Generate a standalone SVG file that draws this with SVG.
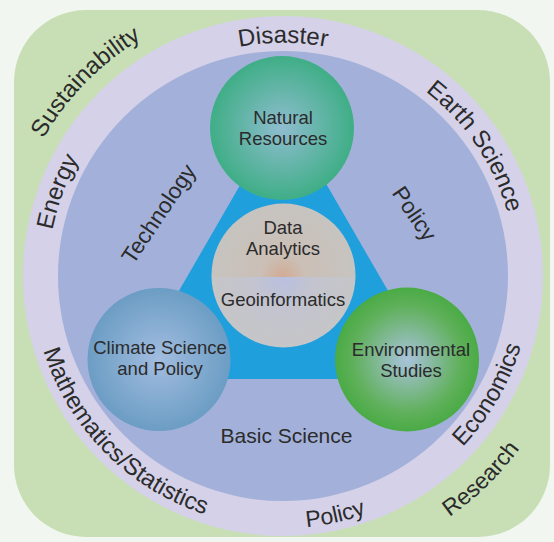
<svg xmlns="http://www.w3.org/2000/svg" width="554" height="542" viewBox="0 0 554 542">
<style>
  .lbl{font-family:"Liberation Sans",Arial,sans-serif;fill:#2b2b2b;text-anchor:middle}
  .node{font-size:18.5px}
  .ring{font-size:24px}
  .inner{font-size:22.5px}
</style>
<defs>
  <radialGradient id="gNR" cx="0.5" cy="0.5" r="0.5">
    <stop offset="0" stop-color="#8fbdd0"/>
    <stop offset="1" stop-color="#3fae86"/>
  </radialGradient>
  <radialGradient id="gCS" cx="0.5" cy="0.5" r="0.5">
    <stop offset="0" stop-color="#a2bde0"/>
    <stop offset="1" stop-color="#6c9dc4"/>
  </radialGradient>
  <radialGradient id="gES" cx="0.5" cy="0.5" r="0.5">
    <stop offset="0" stop-color="#a9c3dc"/>
    <stop offset="0.75" stop-color="#5fb05a"/>
    <stop offset="1" stop-color="#4aab45"/>
  </radialGradient>
  <radialGradient id="gTop" gradientUnits="userSpaceOnUse" cx="283" cy="277" r="75">
    <stop offset="0" stop-color="#d2ab94"/>
    <stop offset="0.3" stop-color="#cbbfb6"/>
    <stop offset="1" stop-color="#c6c4c1"/>
  </radialGradient>
  <radialGradient id="gBot" gradientUnits="userSpaceOnUse" cx="283" cy="277" r="75">
    <stop offset="0" stop-color="#b9bfe0"/>
    <stop offset="0.4" stop-color="#c3c4cf"/>
    <stop offset="1" stop-color="#c6c6c7"/>
  </radialGradient>
  <clipPath id="cTop"><rect x="200" y="190" width="170" height="87"/></clipPath>
  <clipPath id="cBot"><rect x="200" y="277" width="170" height="80"/></clipPath>
  <path id="pDisaster" d="M53.5,235.5 A233,233 0 0 1 512.5,235.5"/>
  <path id="pEarth" d="M188.2,63.1 A233,233 0 0 1 444.9,443.6"/>
  <path id="pEnergy" d="M163.7,478.5 A235,235 0 0 1 325.8,44.9"/>
  <path id="pSust" d="M58.3,436.3 A276,276 0 0 1 439.3,48.5"/>
  <path id="pPolicyB" d="M49.8,371.6 A252,252 0 0 0 534.8,265.9"/>
  <path id="pEcon" d="M198.2,509.0 A248,248 0 0 0 442.4,86.0"/>
  <path id="pResearch" d="M112.0,513.9 A293,293 0 0 0 525.0,110.9"/>
  <path id="pMath" d="M78.4,130.6 A251,251 0 0 0 425.5,482.6"/>
</defs>

<rect width="554" height="542" fill="#f1f7f0"/>

<g id="background">
  <rect x="14" y="10" width="536" height="527" rx="72" ry="72" fill="#c8dfb6"/>
  <circle cx="283" cy="276" r="260" fill="#d4d1e8"/>
  <circle cx="283" cy="276" r="225" fill="#a3b1da"/>
</g>

<g id="connectors">
  <polygon points="283.5,110 128,379 439,379" fill="#1f9fdc"/>
</g>

<g id="ring-labels" class="lbl ring">
  <text id="t-disaster"><textPath href="#pDisaster" startOffset="50%">Disaster</textPath></text>
  <text id="t-earth"><textPath href="#pEarth" startOffset="50%">Earth Science</textPath></text>
  <text id="t-energy"><textPath href="#pEnergy" startOffset="50%">Energy</textPath></text>
  <text id="t-sust"><textPath href="#pSust" startOffset="50%">Sustainability</textPath></text>
  <text id="t-policyb" style="font-size:23px"><textPath href="#pPolicyB" startOffset="50%">Policy</textPath></text>
  <text id="t-econ"><textPath href="#pEcon" startOffset="50%">Economics</textPath></text>
  <text id="t-research" style="font-size:23px"><textPath href="#pResearch" startOffset="50%">Research</textPath></text>
  <text id="t-math"><textPath href="#pMath" startOffset="50%">Mathematics/Statistics</textPath></text>
</g>

<g id="inner-labels" class="lbl inner">
  <text id="t-technology" x="165" y="218" transform="rotate(-56 165 218)">Technology</text>
  <text id="t-policyi" x="408" y="218" transform="rotate(56 408 218)">Policy</text>
  <text id="t-basic" x="286.5" y="443" style="font-size:21px">Basic Science</text>
</g>

<g id="natural-resources">
  <circle cx="282" cy="128" r="72" fill="url(#gNR)"/>
  <text class="lbl node" x="283" y="124">Natural</text>
  <text class="lbl node" x="283" y="145">Resources</text>
</g>

<g id="data-geo">
  <circle cx="283.5" cy="275.5" r="72" fill="url(#gTop)" clip-path="url(#cTop)"/>
  <circle cx="283.5" cy="275.5" r="72" fill="url(#gBot)" clip-path="url(#cBot)"/>
  <text class="lbl node" x="283" y="234">Data</text>
  <text class="lbl node" x="283" y="255">Analytics</text>
  <text class="lbl node" x="283" y="306">Geoinformatics</text>
</g>

<g id="climate">
  <circle cx="159" cy="359.5" r="71.5" fill="url(#gCS)"/>
  <text class="lbl node" x="160" y="353.5">Climate Science</text>
  <text class="lbl node" x="160" y="374.5">and Policy</text>
</g>

<g id="environmental">
  <circle cx="407" cy="359.5" r="72" fill="url(#gES)"/>
  <text class="lbl node" x="411" y="355.5">Environmental</text>
  <text class="lbl node" x="411" y="376.5">Studies</text>
</g>
</svg>
